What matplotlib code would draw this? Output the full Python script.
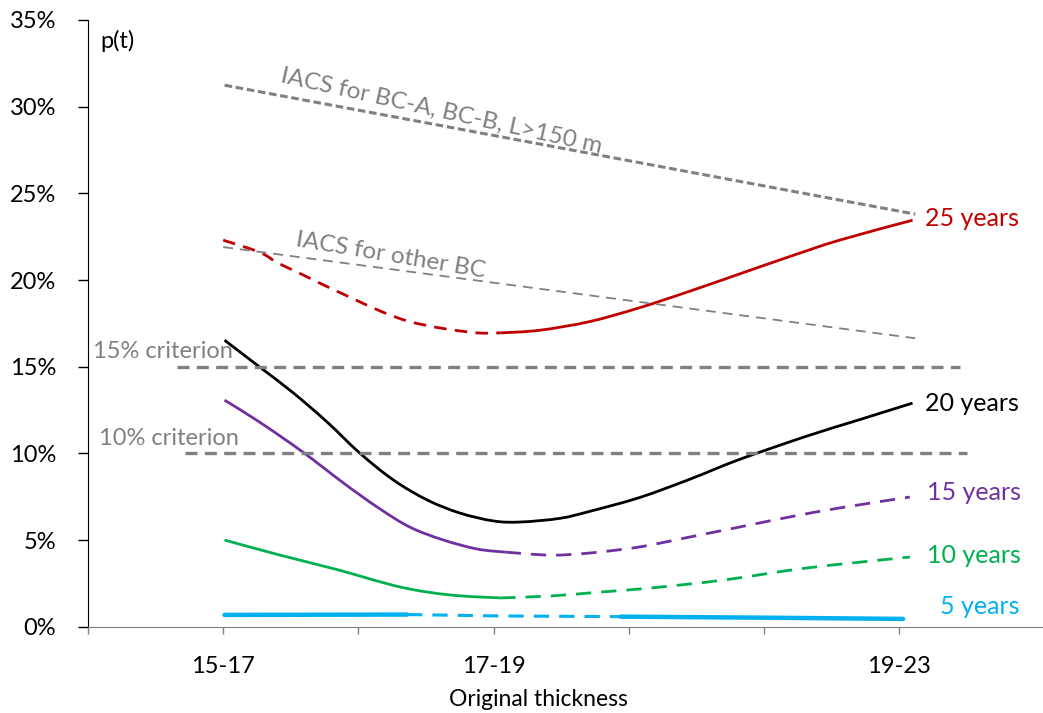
import matplotlib
matplotlib.use("Agg")
import matplotlib.pyplot as plt
import numpy as np
from matplotlib.path import Path
from matplotlib.patches import PathPatch
from matplotlib.ticker import PercentFormatter

plt.rcParams['font.family'] = ['Lato', 'DejaVu Sans']

# x axis = original thickness (mm); categories sit at 16, 18, 21
cat_pos = [16, 18, 21]
cat_labels = ["15-17", "17-19", "19-23"]

# 25 years (red): dashed part then solid part, p(t) in %
red_dash_x = [16.0, 16.27, 16.40, 16.55, 16.72, 16.94, 17.18, 17.38, 17.63, 17.88, 18.05]
red_dash_y = [22.3, 21.6, 21.0, 20.45, 19.8, 19.0, 18.15, 17.6, 17.2, 16.95, 16.95]
red_solid_x = [18.05, 18.34, 18.71, 19.08, 19.45, 19.82, 20.19, 20.56, 21.1]
red_solid_y = [16.95, 17.1, 17.6, 18.4, 19.35, 20.35, 21.35, 22.3, 23.45]

# 20 years (black)
blk_x = [16.01, 16.27, 16.52, 16.77, 17.01, 17.26, 17.51, 17.75, 18.0, 18.2,
         18.49, 18.71, 19.08, 19.45, 19.82, 20.32, 20.69, 21.1]
blk_y = [16.53, 14.98, 13.48, 11.8, 10.02, 8.46, 7.31, 6.56, 6.1, 6.04,
         6.25, 6.65, 7.45, 8.5, 9.65, 11.0, 11.9, 12.9]

# 15 years (purple)
pur_solid_x = [16.01, 16.27, 16.59, 16.89, 17.14, 17.38, 17.63, 17.88, 18.09]
pur_solid_y = [13.07, 11.8, 10.07, 8.29, 6.9, 5.75, 5.0, 4.48, 4.3]
pur_dash_x = [18.09, 18.42, 18.71, 19.08, 19.45, 19.82, 20.19, 20.56, 21.08]
pur_dash_y = [4.3, 4.13, 4.25, 4.6, 5.17, 5.75, 6.33, 6.85, 7.48]

# 10 years (green)
grn_solid_x = [16.01, 16.42, 16.84, 17.31, 17.68, 18.05]
grn_solid_y = [5.0, 4.13, 3.3, 2.29, 1.83, 1.66]
grn_dash_x = [18.05, 18.42, 18.79, 19.16, 19.70, 20.32, 21.08]
grn_dash_y = [1.66, 1.77, 2.0, 2.23, 2.69, 3.39, 4.02]

# 5 years (cyan)
cyn_solid1_x = [16.01, 17.36]
cyn_solid1_y = [0.68, 0.70]
cyn_dash_x = [17.36, 18.05, 18.94]
cyn_dash_y = [0.70, 0.62, 0.58]
cyn_solid2_x = [18.94, 20.01, 21.03]
cyn_solid2_y = [0.58, 0.52, 0.45]

# IACS limits and criteria
iacs_a_x = [16.01, 21.12]
iacs_a_y = [31.24, 23.8]
iacs_o_x = [16.0, 21.12]
iacs_o_y = [21.9, 16.64]
crit15_x = [15.66, 21.45]
crit10_x = [15.72, 21.5]

RED, PUR, GRN, CYN, GRY = "#C00000", "#7030A0", "#00B050", "#00B0F0", "#808080"


def smooth(ax, xs, ys, **kw):
    # Excel-like smoothed line: Catmull-Rom segments drawn as cubic Beziers
    p = np.column_stack([xs, ys]).astype(float)
    n = len(p)
    verts = [p[0]]
    codes = [Path.MOVETO]
    for i in range(n - 1):
        p0 = p[i - 1] if i > 0 else p[i]
        p3 = p[i + 2] if i + 2 < n else p[i + 1]
        c1 = p[i] + (p[i + 1] - p0) / 6
        c2 = p[i + 1] - (p3 - p[i]) / 6
        verts += [c1, c2, p[i + 1]]
        codes += [Path.CURVE4] * 3
    patch = PathPatch(Path(verts, codes), fill=False, **kw)
    ax.add_patch(patch)


fig = plt.figure(figsize=(10.43, 7.13), dpi=100)
ax = fig.add_axes([88/1043, 1-626.7/713, 955/1043, 606.7/713])

ax.plot(crit15_x, [15, 15], color=GRY, lw=2.4, dashes=(3.6, 2.2))
ax.plot(crit10_x, [10, 10], color=GRY, lw=2.4, dashes=(3.6, 2.2))
ax.plot(iacs_a_x, iacs_a_y, color=GRY, lw=2.2, dashes=(2.5, 1.2))
ax.plot(iacs_o_x, iacs_o_y, color=GRY, lw=1.3, dashes=(5.5, 3.8))

smooth(ax, red_dash_x, red_dash_y, edgecolor=RED, lw=2.0, linestyle=(0, (4.5, 3)))
smooth(ax, red_solid_x, red_solid_y, edgecolor=RED, lw=2.0)
smooth(ax, blk_x, blk_y, edgecolor="black", lw=2.0)
smooth(ax, pur_solid_x, pur_solid_y, edgecolor=PUR, lw=2.0)
smooth(ax, pur_dash_x, pur_dash_y, edgecolor=PUR, lw=2.0, linestyle=(0, (5.5, 3.6)))
smooth(ax, grn_solid_x, grn_solid_y, edgecolor=GRN, lw=2.0)
smooth(ax, grn_dash_x, grn_dash_y, edgecolor=GRN, lw=2.0, linestyle=(0, (5.5, 3.6)))
ax.plot(cyn_solid1_x, cyn_solid1_y, color=CYN, lw=3.2, solid_capstyle="round")
ax.plot(cyn_dash_x, cyn_dash_y, color=CYN, lw=2.2, dashes=(5, 3.3))
ax.plot(cyn_solid2_x, cyn_solid2_y, color=CYN, lw=3.2, solid_capstyle="round")

# text labels
ax.text(15.04, 15.85, "15% criterion", color=GRY, fontsize=17, va="center", ha="left")
ax.text(15.08, 10.85, "10% criterion", color=GRY, fontsize=17, va="center", ha="left")
ax.text(16.42, 31.4, "IACS for BC-A, BC-B, L>150 m", color=GRY, fontsize=17.5,
        rotation=-12.5, rotation_mode="anchor", ha="left", va="baseline")
ax.text(16.53, 21.95, "IACS for other BC", color=GRY, fontsize=17.5,
        rotation=-9.5, rotation_mode="anchor", ha="left", va="baseline")
ax.text(15.09, 33.8, "p(t)", fontsize=17, va="center", ha="left")

ax.text(21.19, 23.57, "25 years", color=RED, fontsize=18, va="center")
ax.text(21.19, 12.9, "20 years", color="black", fontsize=18, va="center")
ax.text(21.21, 7.77, "15 years", color=PUR, fontsize=18, va="center")
ax.text(21.21, 4.13, "10 years", color=GRN, fontsize=18, va="center")
ax.text(21.30, 1.14, "5 years", color=CYN, fontsize=18, va="center")

ax.set_xlim(15, 15 + 955/135.17)
ax.set_ylim(0, 35)
ax.set_yticks(range(0, 36, 5))
ax.yaxis.set_major_formatter(PercentFormatter(decimals=0))
tick_lbls = [cat_labels[cat_pos.index(t)] if t in cat_pos else "" for t in range(15, 22)]
ax.set_xticks(range(15, 22))
ax.set_xticklabels(tick_lbls)
ax.tick_params(axis="x", length=5, width=1, color=GRY, pad=16, labelsize=17)
ax.tick_params(axis="y", length=7, width=1, pad=16, labelsize=17)

for s in ["top", "right"]:
    ax.spines[s].set_visible(False)
ax.spines["left"].set_color("black")
ax.spines["bottom"].set_color(GRY)

ax.set_xlabel("Original thickness", fontsize=16.5)
ax.xaxis.set_label_coords((538-88)/955, (626.7-700)/606.7)
ax.xaxis.label.set_va("center")

fig.savefig("out.png", dpi=100)
